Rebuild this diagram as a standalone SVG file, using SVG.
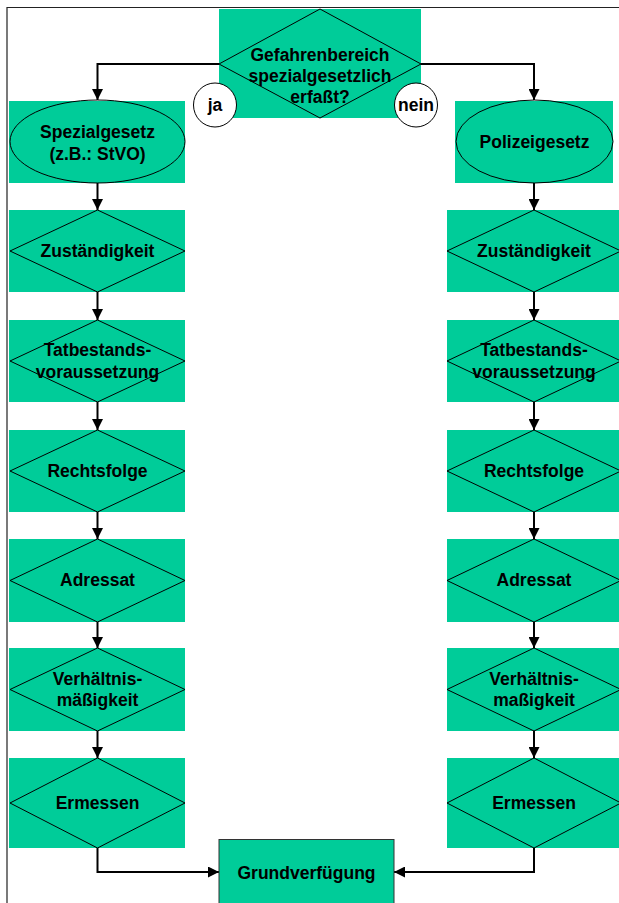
<svg xmlns="http://www.w3.org/2000/svg" width="619" height="903" viewBox="0 0 619 903">
<style>
.bg{fill:#00CC99}
.sh{fill:none;stroke:#000;stroke-width:1}
.t{font-family:"Liberation Sans",Arial,sans-serif;font-weight:bold;font-size:17.5px;fill:#000;text-anchor:middle}
.c{fill:none;stroke:#000;stroke-width:2}
.lab{fill:#fff;stroke:#000;stroke-width:1}
</style>
<defs>
<marker id="ah" viewBox="0 0 10 10" refX="10" refY="5" markerWidth="11" markerHeight="11" markerUnits="userSpaceOnUse" orient="auto"><path d="M0,0 L10,5 L0,10 z" fill="#000"/></marker>
</defs>
<rect width="619" height="903" fill="#fff"/>
<path d="M7,903 V7.5 H619" fill="none" stroke="#222" stroke-width="1.2"/>

<g id="connectors">
<polyline class="c" points="219,64 97.5,64 97.5,100" marker-end="url(#ah)"/>
<polyline class="c" points="421,64 534,64 534,100" marker-end="url(#ah)"/>
<line class="c" x1="97.5" y1="183" x2="97.5" y2="210" marker-end="url(#ah)"/>
<line class="c" x1="97.5" y1="292" x2="97.5" y2="320" marker-end="url(#ah)"/>
<line class="c" x1="97.5" y1="402" x2="97.5" y2="430" marker-end="url(#ah)"/>
<line class="c" x1="97.5" y1="512" x2="97.5" y2="539" marker-end="url(#ah)"/>
<line class="c" x1="97.5" y1="622" x2="97.5" y2="648" marker-end="url(#ah)"/>
<line class="c" x1="97.5" y1="731" x2="97.5" y2="758" marker-end="url(#ah)"/>
<polyline class="c" points="97.5,848 97.5,872 219,872" marker-end="url(#ah)"/>
<line class="c" x1="534" y1="183" x2="534" y2="210" marker-end="url(#ah)"/>
<line class="c" x1="534" y1="292" x2="534" y2="320" marker-end="url(#ah)"/>
<line class="c" x1="534" y1="402" x2="534" y2="430" marker-end="url(#ah)"/>
<line class="c" x1="534" y1="512" x2="534" y2="539" marker-end="url(#ah)"/>
<line class="c" x1="534" y1="622" x2="534" y2="648" marker-end="url(#ah)"/>
<line class="c" x1="534" y1="731" x2="534" y2="758" marker-end="url(#ah)"/>
<polyline class="c" points="534,848 534,872 394,872" marker-end="url(#ah)"/>
</g>

<g id="frage">
<rect class="bg" x="219" y="9" width="202" height="109"/>
<polygon class="sh" points="320,9 421,64 320,118 219,64"/>
<text class="t" x="320" y="61">Gefahrenbereich</text>
<text class="t" x="320" y="82">spezialgesetzlich</text>
<text class="t" x="320" y="103">erfaßt?</text>
</g>
<g id="ja">
<ellipse class="lab" cx="215" cy="105" rx="21.5" ry="22"/>
<text class="t" x="215" y="111">ja</text>
</g>
<g id="nein">
<ellipse class="lab" cx="416" cy="105" rx="21.5" ry="22"/>
<text class="t" x="416" y="111">nein</text>
</g>

<g id="spezialgesetz">
<rect class="bg" x="9" y="101" width="176" height="82"/>
<ellipse class="sh" cx="97.5" cy="141.5" rx="87.5" ry="41.5"/>
<text class="t" x="97.5" y="138">Spezialgesetz</text>
<text class="t" x="97.5" y="160">(z.B.: StVO)</text>
</g>
<g id="polizeigesetz">
<rect class="bg" x="455" y="101" width="158" height="82"/>
<ellipse class="sh" cx="534.5" cy="141.5" rx="78.5" ry="41.5"/>
<text class="t" x="534.5" y="148">Polizeigesetz</text>
</g>

<g id="l-zustaendigkeit">
<rect class="bg" x="9" y="210" width="176" height="82"/>
<polygon class="sh" points="97.5,210 185,251 97.5,292 10,251"/>
<text class="t" x="97.5" y="257">Zuständigkeit</text>
</g>
<g id="l-tatbestand">
<rect class="bg" x="9" y="320" width="176" height="82"/>
<polygon class="sh" points="97.5,320 185,361 97.5,402 10,361"/>
<text class="t" x="97.5" y="356">Tatbestands-</text>
<text class="t" x="97.5" y="378">voraussetzung</text>
</g>
<g id="l-rechtsfolge">
<rect class="bg" x="9" y="430" width="176" height="82"/>
<polygon class="sh" points="97.5,430 185,471 97.5,512 10,471"/>
<text class="t" x="97.5" y="477">Rechtsfolge</text>
</g>
<g id="l-adressat">
<rect class="bg" x="9" y="539" width="176" height="83"/>
<polygon class="sh" points="97.5,539 185,580.5 97.5,622 10,580.5"/>
<text class="t" x="97.5" y="586">Adressat</text>
</g>
<g id="l-verhaeltnis">
<rect class="bg" x="9" y="648" width="176" height="83"/>
<polygon class="sh" points="97.5,648 185,689.5 97.5,731 10,689.5"/>
<text class="t" x="97.5" y="685">Verhältnis-</text>
<text class="t" x="97.5" y="706">mäßigkeit</text>
</g>
<g id="l-ermessen">
<rect class="bg" x="9" y="758" width="176" height="90"/>
<polygon class="sh" points="97.5,758 185,803 97.5,848 10,803"/>
<text class="t" x="97.5" y="809">Ermessen</text>
</g>

<g id="r-zustaendigkeit">
<rect class="bg" x="447" y="210" width="174" height="82"/>
<polygon class="sh" points="534,210 621,251 534,292 447,251"/>
<text class="t" x="534" y="257">Zuständigkeit</text>
</g>
<g id="r-tatbestand">
<rect class="bg" x="447" y="320" width="174" height="82"/>
<polygon class="sh" points="534,320 621,361 534,402 447,361"/>
<text class="t" x="534" y="356">Tatbestands-</text>
<text class="t" x="534" y="378">voraussetzung</text>
</g>
<g id="r-rechtsfolge">
<rect class="bg" x="447" y="430" width="174" height="82"/>
<polygon class="sh" points="534,430 621,471 534,512 447,471"/>
<text class="t" x="534" y="477">Rechtsfolge</text>
</g>
<g id="r-adressat">
<rect class="bg" x="447" y="539" width="174" height="83"/>
<polygon class="sh" points="534,539 621,580.5 534,622 447,580.5"/>
<text class="t" x="534" y="586">Adressat</text>
</g>
<g id="r-verhaeltnis">
<rect class="bg" x="447" y="648" width="174" height="83"/>
<polygon class="sh" points="534,648 621,689.5 534,731 447,689.5"/>
<text class="t" x="534" y="685">Verhältnis-</text>
<text class="t" x="534" y="706">maßigkeit</text>
</g>
<g id="r-ermessen">
<rect class="bg" x="447" y="758" width="174" height="90"/>
<polygon class="sh" points="534,758 621,803 534,848 447,803"/>
<text class="t" x="534" y="809">Ermessen</text>
</g>

<g id="grundverfuegung">
<rect x="219" y="839.5" width="175" height="70" fill="#00CC99" stroke="#333" stroke-width="1"/>
<text class="t" x="306.5" y="879">Grundverfügung</text>
</g>
</svg>
